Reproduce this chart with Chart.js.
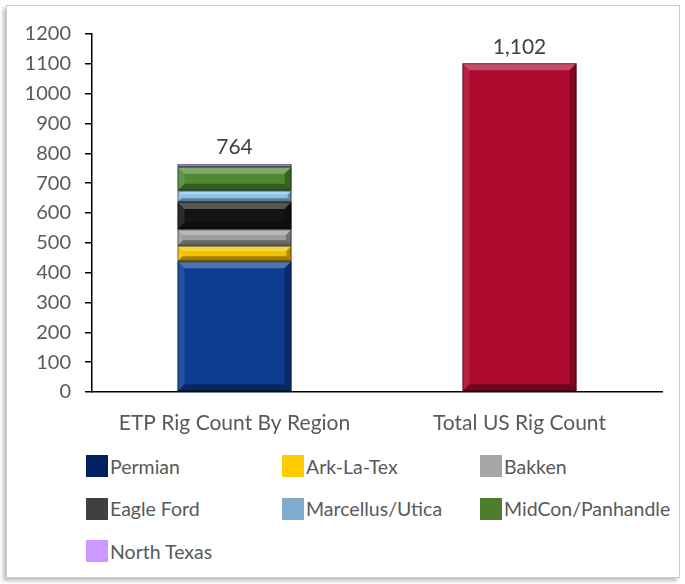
<!DOCTYPE html>
<html>
<head>
<meta charset="utf-8">
<script src="https://cdn.jsdelivr.net/npm/chart.js@4"></script>
<style>
    html, body { margin: 0; padding: 0; background: #fff; }
    body { width: 685px; height: 584px; position: relative; overflow: hidden; font-family: Lato, "Open Sans", sans-serif; }
    #frame {
        position: absolute; left: 6px; top: 5px; width: 672px; height: 571px;
        border: 1px solid #c9c9c9;
        box-shadow: -3px 3px 4px rgba(0,0,0,0.25);
    }
    #wrap { position: absolute; left: 0; top: 0; width: 685px; height: 440px; }
    #legend {
        position: absolute; left: 86px; top: 455px;
        display: grid; grid-template-columns: 196px 198px 185px; row-gap: 20.5px;
    }
    .item { display: flex; align-items: center; height: 22px; color: #595959; font-size: 19.5px; white-space: nowrap; }
    .swatch { width: 22px; height: 22px; margin-right: 2px; flex: none; }
</style>
</head>
<body>
<div id="frame"></div>
<div id="wrap"><canvas id="rigChart"></canvas></div>
<div id="legend"></div>
<script>
/* ETP rig count vs total US rig count */

const categories = ["ETP Rig Count By Region", "Total US Rig Count"];
const regions = ["Permian", "Ark-La-Tex", "Bakken", "Eagle Ford", "Marcellus/Utica", "MidCon/Panhandle", "North Texas"];
const regionRigs = [438, 52, 55, 92, 38, 80, 9];
const totalUsRigs = 1102;
const yMin = 0, yMax = 1200, yStep = 100;

const legendColors = ["#002060", "#ffcc00", "#a6a6a6", "#404040", "#7facce", "#4e7d2a", "#cc99ff"];
const barColors = ["#0d3d92", "#f2c200", "#9d9d9d", "#141414", "#8cc2ea", "#4f8a33", "#cc99ff"];
const totalColor = "#ad0a2e";
const textColor = "#595959";

// fake the Excel bevel look on every bar segment
const bevelPlugin = {
    id: "bevel",
    afterDatasetsDraw(chart) {
        const ctx = chart.ctx;
        chart.data.datasets.forEach((ds, i) => {
            const meta = chart.getDatasetMeta(i);
            if (meta.hidden) return;
            meta.data.forEach((bar, j) => {
                if (ds.data[j] == null) return;
                const p = bar.getProps(["x", "y", "base", "width"], true);
                const l = p.x - p.width / 2, r = p.x + p.width / 2;
                const t = Math.min(p.y, p.base), b = Math.max(p.y, p.base);
                const h = b - t;
                const bv = Math.min(7, h / 3);
                const poly = (pts, fill) => {
                    ctx.beginPath();
                    ctx.moveTo(pts[0][0], pts[0][1]);
                    pts.slice(1).forEach(q => ctx.lineTo(q[0], q[1]));
                    ctx.closePath();
                    ctx.fillStyle = fill;
                    ctx.fill();
                };
                ctx.save();
                poly([[l, t], [r, t], [r - bv, t + bv], [l + bv, t + bv]], "rgba(255,255,255,0.28)");
                poly([[l, t], [l + bv, t + bv], [l + bv, b - bv], [l, b]], "rgba(255,255,255,0.10)");
                poly([[r, t], [r, b], [r - bv, b - bv], [r - bv, t + bv]], "rgba(0,0,0,0.28)");
                poly([[l, b], [l + bv, b - bv], [r - bv, b - bv], [r, b]], "rgba(0,0,0,0.35)");
                ctx.strokeStyle = "rgba(0,0,0,0.45)";
                ctx.lineWidth = 1;
                ctx.strokeRect(l + 0.5, t + 0.5, p.width - 1, h - 1);
                ctx.restore();
            });
        });
    }
};

// totals above each column
const totalsPlugin = {
    id: "totals",
    afterDatasetsDraw(chart) {
        const ctx = chart.ctx;
        const x = chart.scales.x, y = chart.scales.y;
        const totals = [regionRigs.reduce((a, b) => a + b, 0), totalUsRigs];
        ctx.save();
        ctx.font = "21px Lato";
        ctx.fillStyle = "#404040";
        ctx.textAlign = "center";
        ctx.textBaseline = "bottom";
        totals.forEach((v, i) => {
            ctx.fillText(v.toLocaleString("en-US"), x.getPixelForValue(i), y.getPixelForValue(v) - 6);
        });
        ctx.restore();
    }
};

const datasets = regions.map((name, i) => ({
    label: name,
    data: [regionRigs[i], null],
    backgroundColor: barColors[i],
    borderWidth: 0
}));
datasets.push({
    label: "Total US",
    data: [null, totalUsRigs],
    backgroundColor: totalColor,
    borderWidth: 0
});

new Chart(document.getElementById("rigChart"), {
    type: "bar",
    data: { labels: categories, datasets: datasets },
    options: {
        responsive: true,
        maintainAspectRatio: false,
        animation: false,
        datasets: { bar: { categoryPercentage: 1, barPercentage: 0.4 } },
        layout: { padding: { top: 34, right: 23, left: 0, bottom: 0 } },
        plugins: {
            legend: { display: false },
            tooltip: { enabled: false }
        },
        scales: {
            x: {
                stacked: true,
                grid: { display: false },
                border: { color: "#000", width: 1.5 },
                ticks: { color: textColor, font: { family: "Lato", size: 21 }, padding: 11 },
                afterFit(scale) { scale.height = 48; }
            },
            y: {
                stacked: true,
                min: yMin,
                max: yMax,
                ticks: {
                    stepSize: yStep,
                    color: textColor,
                    font: { family: "Lato", size: 20 },
                    padding: 14,
                    callback: v => String(v)
                },
                grid: { drawOnChartArea: false, drawTicks: true, tickLength: 7, color: "#000", lineWidth: 1.5 },
                border: { color: "#000", width: 1.5 },
                afterFit(scale) { scale.width = 92; }
            }
        }
    },
    plugins: [bevelPlugin, totalsPlugin]
});

// legend in three fixed columns like the original
const legendEl = document.getElementById("legend");
regions.forEach((name, i) => {
    const item = document.createElement("div");
    item.className = "item";
    const sw = document.createElement("span");
    sw.className = "swatch";
    sw.style.background = legendColors[i];
    const txt = document.createElement("span");
    txt.textContent = name;
    item.appendChild(sw);
    item.appendChild(txt);
    legendEl.appendChild(item);
});
</script>
</body>
</html>
